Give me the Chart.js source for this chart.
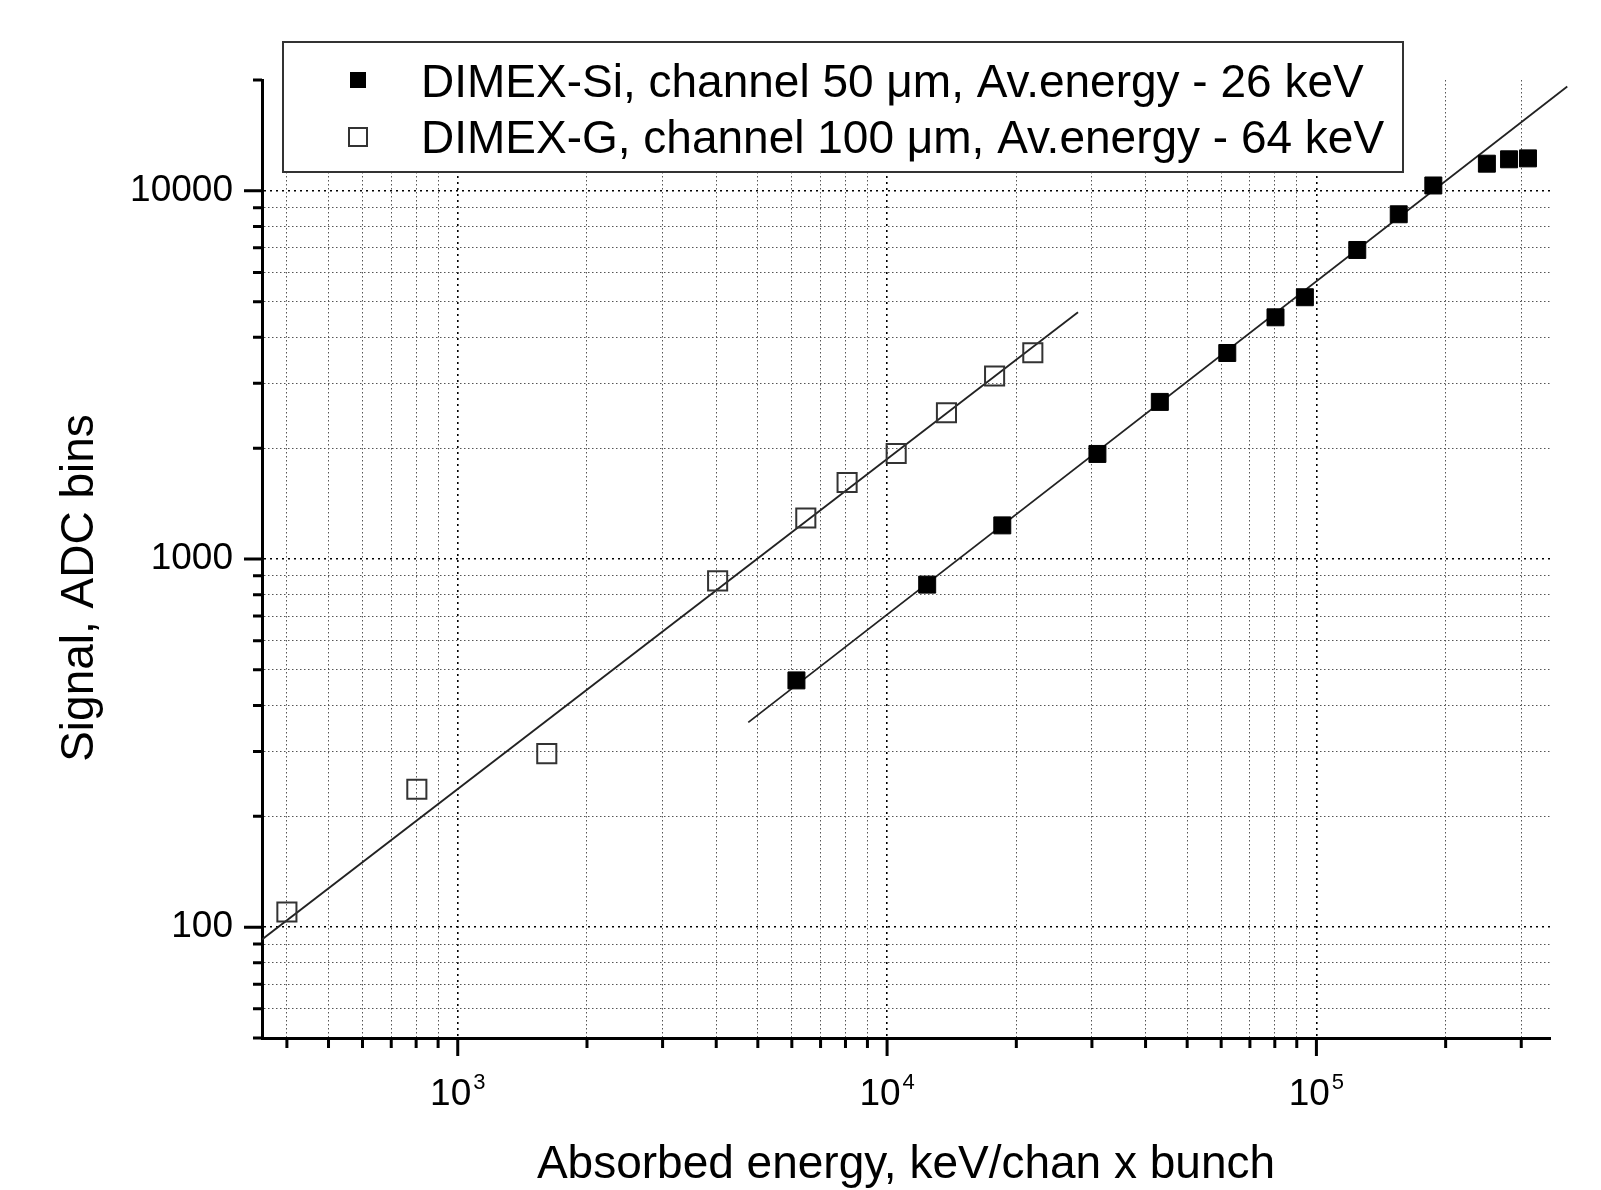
<!DOCTYPE html>
<html>
<head>
<meta charset="utf-8">
<script src="https://cdn.jsdelivr.net/npm/chart.js@4.4.0/dist/chart.umd.min.js"></script>
<style>
  body { margin: 0; background: #fff; }
  #wrap { width: 1601px; height: 1190px; }
</style>
</head>
<body>
<div id="wrap"><canvas id="signalChart" width="1601" height="1190"></canvas></div>
<script>
const FONT = '"Liberation Sans", Arial, sans-serif';

const seriesLabels = [
    'DIMEX-Si, channel 50 \u03bcm, Av.energy - 26 keV',
    'DIMEX-G, channel 100 \u03bcm, Av.energy - 64 keV'
];

// DIMEX-Si (filled squares)
const siEnergy = [6150, 12400, 18550, 30900, 43180, 62000, 80300, 94000, 124500, 155500, 187200, 249500, 281000, 311000];
const siSignal = [468, 852, 1234, 1929, 2671, 3627, 4534, 5140, 6908, 8636, 10340, 11850, 12180, 12250];

// DIMEX-G (open squares)
const gEnergy = [400, 803, 1612, 4030, 6467, 8070, 10500, 13750, 17800, 21850];
const gSignal = [110, 237, 296, 872, 1292, 1614, 1935, 2495, 3140, 3632];

// fitted lines, end points
const siFitEnergy = [4750, 384000];
const siFitSignal = [360, 19200];
const gFitEnergy = [350, 27840];
const gFitSignal = [92.6, 4682];

const xTitle = 'Absorbed energy, keV/chan x bunch';
const yTitle = 'Signal, ADC bins';
const xRange = [350, 350000];
const yRange = [50, 20000];
const xMajorTicks = [1e3, 1e4, 1e5];
const yMajorTicks = [100, 1000, 10000];

function logTicks(min, max) {
    const out = [];
    for (let e = Math.floor(Math.log10(min)); e <= Math.ceil(Math.log10(max)); e++) {
        for (let m = 1; m <= 9; m++) {
            const v = m * Math.pow(10, e);
            if (v >= min && v <= max) out.push(v);
        }
    }
    return out;
}

const isMajor = v => Math.abs(Math.log10(v) - Math.round(Math.log10(v))) < 1e-9;
const toPoints = (xs, ys) => xs.map((x, i) => ({ x, y: ys[i] }));

const gridColor = c => (c.tick && isMajor(c.tick.value)) ? '#000' : '#555';
const gridWidth = c => (c.tick && isMajor(c.tick.value)) ? 1.6 : 1;
const gridDash = c => (c.tick && isMajor(c.tick.value)) ? [2, 4] : [1.5, 2.5];

const decorations = {
    id: 'decorations',
    afterDraw(chart) {
        const { ctx, chartArea, scales: { x, y } } = chart;
        ctx.save();

        // tick marks, outward
        ctx.strokeStyle = '#000';
        ctx.lineWidth = 3;
        ctx.beginPath();
        logTicks(xRange[0], xRange[1]).forEach(v => {
            const px = x.getPixelForValue(v);
            const len = isMajor(v) ? 18 : 10;
            ctx.moveTo(px, chartArea.bottom);
            ctx.lineTo(px, chartArea.bottom + len);
        });
        logTicks(yRange[0], yRange[1]).forEach(v => {
            const py = y.getPixelForValue(v);
            const len = isMajor(v) ? 18 : 9;
            ctx.moveTo(chartArea.left, py);
            ctx.lineTo(chartArea.left - len, py);
        });
        ctx.stroke();

        // x tick labels as 10 with exponent
        ctx.fillStyle = '#000';
        ctx.textBaseline = 'alphabetic';
        ctx.textAlign = 'left';
        xMajorTicks.forEach(v => {
            const px = x.getPixelForValue(v);
            const exp = String(Math.round(Math.log10(v)));
            ctx.font = `37px ${FONT}`;
            const wb = ctx.measureText('10').width;
            ctx.font = `22px ${FONT}`;
            const we = ctx.measureText(exp).width;
            const start = px - (wb + 2 + we) / 2;
            ctx.font = `37px ${FONT}`;
            ctx.fillText('10', start, chartArea.bottom + 67);
            ctx.font = `22px ${FONT}`;
            ctx.fillText(exp, start + wb + 2, chartArea.bottom + 51);
        });

        // axis titles
        ctx.font = `46px ${FONT}`;
        ctx.textAlign = 'center';
        ctx.fillText(xTitle, (chartArea.left + chartArea.right) / 2, 1178);
        ctx.save();
        ctx.translate(80, 588);
        ctx.rotate(-Math.PI / 2);
        ctx.textBaseline = 'middle';
        ctx.fillText(yTitle, 0, 0);
        ctx.restore();

        // legend box
        ctx.fillStyle = '#fff';
        ctx.fillRect(283, 42, 1120, 130);
        ctx.strokeStyle = '#333';
        ctx.lineWidth = 2;
        ctx.strokeRect(283, 42, 1120, 130);
        ctx.fillStyle = '#000';
        ctx.fillRect(350, 72, 16, 16);
        ctx.strokeRect(349, 128, 18, 18);
        ctx.font = `46px ${FONT}`;
        ctx.textAlign = 'left';
        ctx.textBaseline = 'alphabetic';
        ctx.fillText(seriesLabels[0], 421, 97);
        ctx.fillText(seriesLabels[1], 421, 153);

        ctx.restore();
    }
};

const ctx = document.getElementById('signalChart');
new Chart(ctx, {
    type: 'scatter',
    data: {
        datasets: [
            {
                label: seriesLabels[0],
                data: toPoints(siEnergy, siSignal),
                pointStyle: 'rect',
                pointRadius: 12,
                backgroundColor: '#000',
                borderColor: '#000',
                borderWidth: 1,
                order: 1
            },
            {
                label: seriesLabels[1],
                data: toPoints(gEnergy, gSignal),
                pointStyle: 'rect',
                pointRadius: 13.5,
                backgroundColor: 'rgba(0,0,0,0)',
                borderColor: '#333',
                borderWidth: 2,
                order: 1
            },
            {
                label: 'Si fit',
                data: toPoints(siFitEnergy, siFitSignal),
                showLine: true,
                pointRadius: 0,
                borderColor: '#222',
                borderWidth: 1.8,
                clip: false,
                order: 2
            },
            {
                label: 'G fit',
                data: toPoints(gFitEnergy, gFitSignal),
                showLine: true,
                pointRadius: 0,
                borderColor: '#222',
                borderWidth: 1.8,
                order: 2
            }
        ]
    },
    options: {
        responsive: false,
        animation: false,
        devicePixelRatio: 1,
        events: [],
        layout: { padding: { left: 0, right: 51, top: 80, bottom: 0 } },
        plugins: {
            legend: { display: false },
            tooltip: { enabled: false }
        },
        scales: {
            x: {
                type: 'logarithmic',
                min: xRange[0],
                max: xRange[1],
                afterBuildTicks: scale => {
                    scale.ticks = logTicks(xRange[0], xRange[1])
                        .filter(v => v > xRange[0] && v < xRange[1])
                        .map(v => ({ value: v, major: isMajor(v) }));
                },
                afterFit: scale => { scale.height = 152; },
                ticks: { display: false },
                grid: { drawTicks: false, color: gridColor, lineWidth: gridWidth },
                border: { display: true, color: '#000', width: 3, dash: gridDash }
            },
            y: {
                type: 'logarithmic',
                min: yRange[0],
                max: yRange[1],
                afterBuildTicks: scale => {
                    scale.ticks = logTicks(yRange[0], yRange[1])
                        .filter(v => v > yRange[0] && v < yRange[1])
                        .map(v => ({ value: v, major: isMajor(v) }));
                },
                afterFit: scale => { scale.width = 262; },
                ticks: {
                    autoSkip: false,
                    padding: 29,
                    color: '#000',
                    font: { family: FONT, size: 37 },
                    callback: v => yMajorTicks.includes(v) ? String(v) : ''
                },
                grid: { drawTicks: false, color: gridColor, lineWidth: gridWidth },
                border: { display: true, color: '#000', width: 3, dash: gridDash }
            }
        }
    },
    plugins: [decorations]
});
</script>
</body>
</html>
